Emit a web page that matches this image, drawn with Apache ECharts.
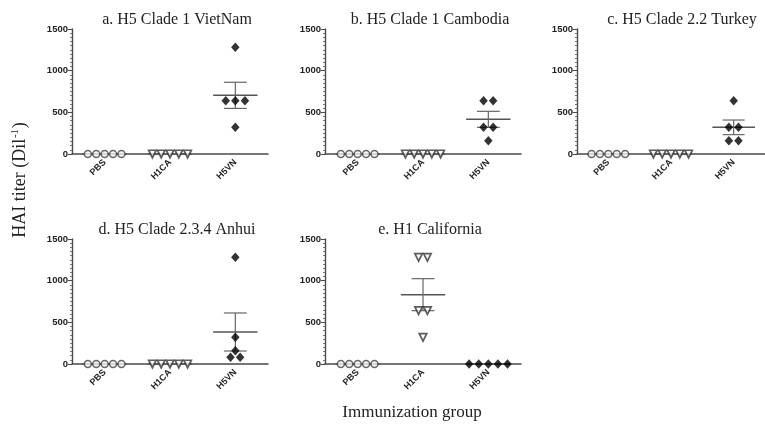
<!DOCTYPE html>
<html>
<head>
<meta charset="utf-8">
<script src="https://cdn.jsdelivr.net/npm/echarts@6/dist/echarts.min.js"></script>
<style>
html,body{margin:0;padding:0;background:#fff;}
#chart{width:765px;height:437px;}
</style>
</head>
<body>
<div id="chart"></div>
<script>
// ---------- data ----------
const categories = ['PBS', 'H1CA', 'H5VN'];
const panelTitles = [
  'a. H5 Clade 1 VietNam',
  'b. H5 Clade 1 Cambodia',
  'c. H5 Clade 2.2 Turkey',
  'd. H5 Clade 2.3.4 Anhui',
  'e. H1 California'
];
const yTicks = [0, 500, 1000, 1500];

const vietnamPBS  = [0, 0, 0, 0, 0];
const vietnamH1CA = [0, 0, 0, 0, 0];
const vietnamH5VN = [1280, 640, 640, 640, 320];

const cambodiaPBS  = [0, 0, 0, 0, 0];
const cambodiaH1CA = [0, 0, 0, 0, 0];
const cambodiaH5VN = [640, 640, 320, 320, 160];

const turkeyPBS  = [0, 0, 0, 0, 0];
const turkeyH1CA = [0, 0, 0, 0, 0];
const turkeyH5VN = [640, 320, 320, 160, 160];

const anhuiPBS  = [0, 0, 0, 0, 0];
const anhuiH1CA = [0, 0, 0, 0, 0];
const anhuiH5VN = [1280, 320, 160, 80, 80];

const californiaPBS  = [0, 0, 0, 0, 0];
const californiaH1CA = [1280, 1280, 640, 640, 320];
const californiaH5VN = [0, 0, 0, 0, 0];

const panelData = [
  [vietnamPBS, vietnamH1CA, vietnamH5VN],
  [cambodiaPBS, cambodiaH1CA, cambodiaH5VN],
  [turkeyPBS, turkeyH1CA, turkeyH5VN],
  [anhuiPBS, anhuiH1CA, anhuiH5VN],
  [californiaPBS, californiaH1CA, californiaH5VN]
];

// ---------- layout / style ----------
const gridPos = [
  {left: 72, top: 29}, {left: 325, top: 29}, {left: 577, top: 29},
  {left: 72, top: 239}, {left: 325, top: 239}
];
const gridW = 196, gridH = 125;
const axisColor = '#4a4a4a';
const symbolStyles = [
  {symbol: 'circle', size: 7, rotate: 0, itemStyle: {color: '#f4f4f4', borderColor: '#444', borderWidth: 1.5}, spacing: 8.4},
  {symbol: 'triangle', size: 7.5, rotate: 180, itemStyle: {color: '#fafafa', borderColor: '#333', borderWidth: 1.7}, spacing: 8.8},
  {symbol: 'path://M0,-1L1,0L0,1L-1,0Z', size: [8.5, 9.5], rotate: 0, itemStyle: {color: '#000', borderWidth: 0}, spacing: 9.6}
];

function mean(a) { return a.reduce((s, v) => s + v, 0) / a.length; }
function sem(a) {
  const m = mean(a);
  const sd = Math.sqrt(a.reduce((s, v) => s + (v - m) * (v - m), 0) / (a.length - 1));
  return sd / Math.sqrt(a.length);
}

const grids = [], xAxes = [], yAxes = [], series = [], titles = [];

panelData.forEach((groups, p) => {
  grids.push({left: gridPos[p].left, top: gridPos[p].top, width: gridW, height: gridH});
  titles.push({
    text: panelTitles[p],
    left: gridPos[p].left + gridW / 2 + 2,
    top: gridPos[p].top - 22,
    textAlign: 'center',
    textStyle: {fontFamily: 'Liberation Serif', fontSize: 16, fontWeight: 'normal', color: '#222'}
  });
  xAxes.push({
    type: 'category', gridIndex: p, data: categories, boundaryGap: true,
    axisLine: {lineStyle: {color: axisColor, width: 1.5}},
    axisTick: {alignWithLabel: true, length: 3, lineStyle: {color: axisColor}},
    axisLabel: {rotate: 45, interval: 0, fontFamily: 'Liberation Sans', fontWeight: 'bold', fontSize: 9, color: '#222', margin: 7},
    splitLine: {show: false}
  });
  yAxes.push({
    type: 'value', gridIndex: p, min: yTicks[0], max: yTicks[yTicks.length - 1], interval: yTicks[1] - yTicks[0],
    axisLine: {show: true, lineStyle: {color: axisColor, width: 1.4}},
    axisTick: {show: true, length: 4, lineStyle: {color: axisColor}},
    minorTick: {show: true, splitNumber: 10, length: 2, lineStyle: {color: '#777'}},
    axisLabel: {fontFamily: 'Liberation Sans', fontWeight: 'bold', fontSize: 9.5, color: '#222', margin: 4,
      formatter: v => String(v)},
    splitLine: {show: false}
  });

  // error bars (mean ± SEM)
  const ebData = groups.map((g, i) => {
    const m = mean(g), s = sem(g);
    return [i, m, m - s, m + s];
  });
  series.push({
    type: 'custom', xAxisIndex: p, yAxisIndex: p, z: 1, clip: false,
    data: ebData,
    encode: {x: 0, y: 1},
    renderItem: function (params, api) {
      const c = api.value(0);
      const band = api.size([1, 0])[0];
      const pm = api.coord([c, api.value(1)]);
      const plo = api.coord([c, api.value(2)]);
      const phi = api.coord([c, api.value(3)]);
      const hw = band * 0.34, cw = band * 0.175;
      const st = {stroke: '#555', lineWidth: 1.5};
      const st2 = {stroke: '#666', lineWidth: 1.2};
      return {
        type: 'group',
        children: [
          {type: 'line', shape: {x1: pm[0] - hw, y1: pm[1], x2: pm[0] + hw, y2: pm[1]}, style: st},
          {type: 'line', shape: {x1: pm[0], y1: plo[1], x2: pm[0], y2: phi[1]}, style: st2},
          {type: 'line', shape: {x1: pm[0] - cw, y1: phi[1], x2: pm[0] + cw, y2: phi[1]}, style: st2},
          {type: 'line', shape: {x1: pm[0] - cw, y1: plo[1], x2: pm[0] + cw, y2: plo[1]}, style: st2}
        ]
      };
    }
  });

  // scatter points, jittered horizontally among equal values
  groups.forEach((g, i) => {
    const sty = symbolStyles[i];
    const counts = {}, seen = {};
    g.forEach(v => { counts[v] = (counts[v] || 0) + 1; });
    const pts = g.map(v => {
      const k = seen[v] || 0; seen[v] = k + 1;
      const dx = (k - (counts[v] - 1) / 2) * sty.spacing;
      return {value: [i, v], symbolOffset: [dx, 0]};
    });
    series.push({
      type: 'scatter', xAxisIndex: p, yAxisIndex: p, z: 3, clip: false,
      symbol: sty.symbol, symbolSize: sty.size, symbolRotate: sty.rotate,
      itemStyle: sty.itemStyle,
      emphasis: {disabled: true},
      data: pts
    });
  });
});

const chart = echarts.init(document.getElementById('chart'), null, {renderer: 'canvas'});
chart.setOption({
  animation: false,
  backgroundColor: '#fff',
  title: titles,
  grid: grids,
  xAxis: xAxes,
  yAxis: yAxes,
  series: series,
  graphic: [
    {
      type: 'text', x: 20, y: 180, rotation: Math.PI / 2,
      style: {
        text: '{a|HAI titer (Dil}{s|-1}{a|)}',
        textAlign: 'center', textVerticalAlign: 'middle',
        rich: {
          a: {fontFamily: 'Liberation Serif', fontSize: 18, fill: '#222', color: '#222'},
          s: {fontFamily: 'Liberation Serif', fontSize: 10, fill: '#222', color: '#222', verticalAlign: 'top', padding: [0, 1, 9, 1]}
        }
      }
    },
    {
      type: 'text', x: 412, y: 413,
      style: {
        text: 'Immunization group',
        textAlign: 'center', textVerticalAlign: 'middle',
        font: '17px "Liberation Serif"', fill: '#222'
      }
    }
  ]
});
</script>
</body>
</html>
